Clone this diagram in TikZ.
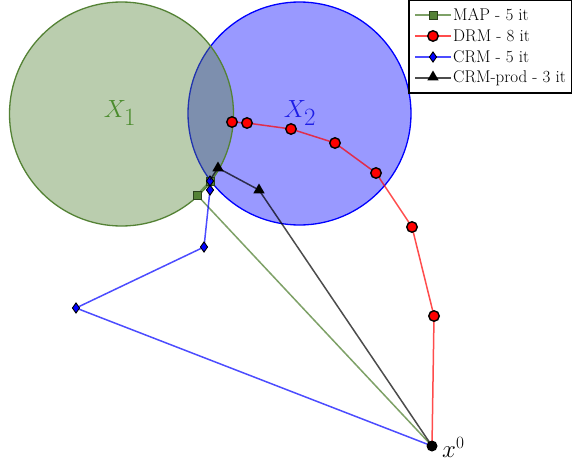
\documentclass[tikz,border=0pt]{standalone}
\usetikzlibrary{shapes.geometric}
\definecolor{mapg}{RGB}{84,130,53}
\definecolor{lblg}{RGB}{75,140,45}
\definecolor{lblb}{RGB}{30,30,230}
\tikzset{
  mksq/.style={rectangle, minimum size=8pt, inner sep=0pt, fill=mapg, draw=mapg!50!black, line width=0.8pt},
  mkdot/.style={circle, minimum size=10.5pt, inner sep=0pt, fill=red, draw=black, line width=1.4pt},
  mkdia/.style={diamond, minimum width=7.5pt, minimum height=10.5pt, inner sep=0pt, fill=blue, draw=black, line width=0.9pt},
  mktri/.style={regular polygon, regular polygon sides=3, minimum size=13pt, inner sep=0pt, fill=black},
  mapline/.style={mapg, draw opacity=0.75, line width=1.5pt},
  drmline/.style={red, draw opacity=0.7, line width=1.5pt},
  crmline/.style={blue, draw opacity=0.7, line width=1.5pt},
  prodline/.style={black, draw opacity=0.7, line width=1.5pt},
  legtext/.style={anchor=west, inner sep=0pt, font=\fontsize{17}{20}\selectfont}
}
\begin{document}
\begin{tikzpicture}[x=1pt,y=-1pt]
\useasboundingbox (0,0) rectangle (572,461);
\fill[white] (0,0) rectangle (572,461);
% sets
\coordinate (c1) at (121.5,114);
\coordinate (c2) at (299.5,113.5);
\draw[blue, line width=1.3pt, fill=blue, fill opacity=0.4] (c2) circle (111.5pt);
\draw[mapg, line width=1.3pt, fill=mapg, fill opacity=0.4] (c1) circle (112pt);
\node[text=lblg, font=\fontsize{34}{38}\selectfont] (lx1) at (120,113) {$X_1$};
\node[text=lblb, font=\fontsize{34}{38}\selectfont] (lx2) at (300,113) {$X_2$};
% points
\coordinate (x0) at (432,446);
\coordinate (m1) at (197,195);
\coordinate (m2) at (210,181);
\coordinate (d1) at (434,316);
\coordinate (d2) at (412,227);
\coordinate (d3) at (376,173);
\coordinate (d4) at (335,143);
\coordinate (d5) at (291,129);
\coordinate (d6) at (247,123);
\coordinate (d7) at (232,122);
\coordinate (r1) at (76,308);
\coordinate (r2) at (204,247);
\coordinate (r3) at (210,190);
\coordinate (r4) at (210,181);
\coordinate (p1) at (259,190);
\coordinate (p2) at (218,168);
\coordinate (p3) at (210,180);
% MAP
\draw[mapline] (x0) -- (m1) -- (m2);
\node[mksq] (mm1) at (m1) {};
\node[mksq] (mm2) at (m2) {};
% DRM
\draw[drmline] (x0) -- (d1) -- (d2) -- (d3) -- (d4) -- (d5) -- (d6) -- (d7);
\foreach \p in {d1,d2,d3,d4,d5,d6,d7} \node[mkdot] (n\p) at (\p) {};
% CRM
\draw[crmline] (x0) -- (r1) -- (r2) -- (r3) -- (r4);
\foreach \p in {r1,r2,r3,r4} \node[mkdia] (n\p) at (\p) {};
% CRM-prod
\draw[prodline] (x0) -- (p1) -- (p2) -- (p3);
\node[mktri] (np1) at (p1) {};
\node[mktri] (np2) at (p2) {};
% start
\node[circle, fill=black, minimum size=11pt, inner sep=0pt] (nx0) at (x0) {};
\node[anchor=base west, inner sep=0pt, font=\fontsize{24}{28}\selectfont] (lx0) at (442,457.5) {$x^0$};
% legend
\draw[black, line width=1.1pt, fill=white] (409,0.6) rectangle (571.4,93);
\coordinate (la1) at (415,15); \coordinate (lb1) at (451,15);
\coordinate (la2) at (415,36); \coordinate (lb2) at (451,36);
\coordinate (la3) at (415,57); \coordinate (lb3) at (451,57);
\coordinate (la4) at (415,78); \coordinate (lb4) at (451,78);
\draw[mapline] (la1) -- (lb1);
\node[mksq] (lm1) at (433,15) {};
\draw[drmline] (la2) -- (lb2);
\node[mkdot] (lm2) at (433,36) {};
\draw[crmline] (la3) -- (lb3);
\node[mkdia] (lm3) at (433,57) {};
\draw[prodline] (la4) -- (lb4);
\node[mktri] (lm4) at (433,77) {};
\node[legtext] (t1) at (453,15) {MAP - 5 it};
\node[legtext] (t2) at (453,36) {DRM - 8 it};
\node[legtext] (t3) at (453,57) {CRM - 5 it};
\node[legtext] (t4) at (453,78) {CRM-prod - 3 it};
\end{tikzpicture}
\end{document}
